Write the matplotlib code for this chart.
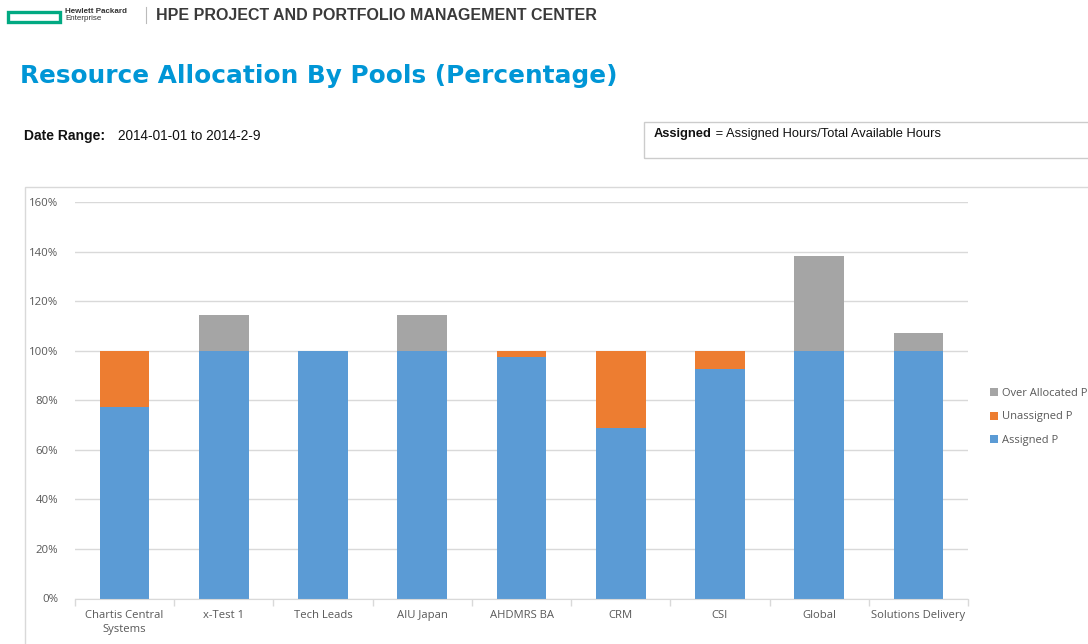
import matplotlib
matplotlib.use("Agg")
import matplotlib.pyplot as plt
from matplotlib.patches import Rectangle
from matplotlib.lines import Line2D
from matplotlib.ticker import FuncFormatter, MultipleLocator
import numpy as np

categories = ["Chartis Central\nSystems", "x-Test 1", "Tech Leads", "AIU Japan", "AHDMRS BA",
              "CRM", "CSI", "Global", "Solutions Delivery"]
assigned = [77.4, 100, 100, 100, 97.6, 68.9, 92.5, 100, 100]
unassigned = [22.6, 0, 0, 0, 2.4, 31.1, 7.5, 0, 0]
over_allocated = [0, 14.5, 0, 14.5, 0, 0, 0, 38.4, 7.0]
series_names = ["Assigned P", "Unassigned P", "Over Allocated P"]
colors = ["#5B9BD5", "#ED7D31", "#A5A5A5"]

W, H = 1088, 644
fig = plt.figure(figsize=(W / 100, H / 100), dpi=100)
fig.patch.set_facecolor("white")

def fx(x):
    return x / W

def fy(y):
    return 1 - y / H

FONT = "Liberation Sans"
TICKFONT = "Open Sans"

# ---- header ----
fig.patches.append(Rectangle((fx(8), fy(22)), fx(52), 10 / H, transform=fig.transFigure,
                             fill=False, edgecolor="#01A982", linewidth=2.4))
fig.text(fx(65), fy(11.5), "Hewlett Packard", fontsize=5.8, fontweight="bold", family=FONT,
         color="#333333", va="center", ha="left")
fig.text(fx(65), fy(19), "Enterprise", fontsize=5.8, family=FONT, color="#333333",
         va="center", ha="left")
fig.add_artist(Line2D([fx(146), fx(146)], [fy(7), fy(23)], transform=fig.transFigure,
                      color="#BBBBBB", linewidth=0.8))

renderer = fig.canvas.get_renderer()

def fit_text(x, y, s, target_w, size, **kw):
    t = fig.text(x, y, s, fontsize=size, **kw)
    bb = t.get_window_extent(renderer=renderer)
    t.set_fontsize(size * target_w / bb.width)
    return t

fit_text(fx(156), fy(15.5), "HPE PROJECT AND PORTFOLIO MANAGEMENT CENTER", 441, 13,
         family=FONT, fontweight="bold", color="#3A3A3A", va="center", ha="left")
fit_text(fx(20), fy(76), "Resource Allocation By Pools (Percentage)", 598, 18,
         family="DejaVu Sans", fontweight="bold", color="#0096D6", va="center", ha="left")

fig.text(fx(24), fy(136), "Date Range:", fontsize=10, fontweight="bold", family=FONT,
         color="#111111", va="center", ha="left")
fig.text(fx(118), fy(136.5), "2014-01-01 to 2014-2-9", fontsize=9.8, family=FONT,
         color="#111111", va="center", ha="left")

fig.patches.append(Rectangle((fx(644), fy(158)), fx(460), 36 / H, transform=fig.transFigure,
                             fill=False, edgecolor="#CCCCCC", linewidth=1.0, clip_on=False))
t1 = fig.text(fx(654), fy(133.5), "Assigned", fontsize=9.3, fontweight="bold", family=FONT,
              color="#111111", va="center", ha="left")
bb = t1.get_window_extent(renderer=renderer)
fig.text(bb.x1 / W, fy(133.5), " = Assigned Hours/Total Available Hours", fontsize=9.3,
         family=FONT, color="#111111", va="center", ha="left")

# chart outer border
fig.patches.append(Rectangle((fx(25), fy(700)), fx(1100), (700 - 187) / H,
                             transform=fig.transFigure, fill=False, edgecolor="#D9D9D9",
                             linewidth=1.0, clip_on=False))

# ---- chart ----
ax = fig.add_axes([fx(75), fy(598.5), fx(968) - fx(75), (598.5 - 202) / H])
x = np.arange(len(categories))
bw = 0.5
a = np.array(assigned)
u = np.array(unassigned)
o = np.array(over_allocated)
b1 = ax.bar(x, a, bw, color=colors[0], label=series_names[0], zorder=3)
b2 = ax.bar(x, u, bw, bottom=a, color=colors[1], label=series_names[1], zorder=3)
b3 = ax.bar(x, o, bw, bottom=a + u, color=colors[2], label=series_names[2], zorder=3)

ax.set_xlim(-0.5, len(categories) - 0.5)
ax.set_ylim(0, 160)
ax.yaxis.set_major_locator(MultipleLocator(20))
ax.yaxis.set_major_formatter(FuncFormatter(lambda v, p: f"{int(round(v))}%"))
ax.grid(axis="y", color="#D9D9D9", linewidth=1.0, zorder=0)
for s in ["top", "right", "left"]:
    ax.spines[s].set_visible(False)
ax.spines["bottom"].set_color("#D9D9D9")
ax.spines["bottom"].set_zorder(4)
ax.tick_params(axis="y", length=0, pad=12, labelsize=8.2, labelcolor="#595959")
for lbl in ax.get_yticklabels():
    lbl.set_family(TICKFONT)

ax.set_xticks(x)
ax.set_xticklabels(categories, fontsize=8.1, color="#595959", family=TICKFONT,
                   linespacing=1.45)
ax.tick_params(axis="x", which="major", length=0, pad=8)
ax.set_xticks(np.arange(-0.5, len(categories), 1.0), minor=True)
ax.tick_params(axis="x", which="minor", length=5, color="#D9D9D9", width=1.0)

handles = [b3, b2, b1]
leg = fig.legend(handles, [series_names[2], series_names[1], series_names[0]],
                 loc="center left", bbox_to_anchor=(fx(986), fy(417)), frameon=False,
                 prop={"family": TICKFONT, "size": 8.0}, handlelength=0.7,
                 handleheight=0.7, handletextpad=0.35, labelspacing=1.12,
                 borderaxespad=0)
for t in leg.get_texts():
    t.set_color("#595959")

fig.savefig("out.png", dpi=100, facecolor="white")
